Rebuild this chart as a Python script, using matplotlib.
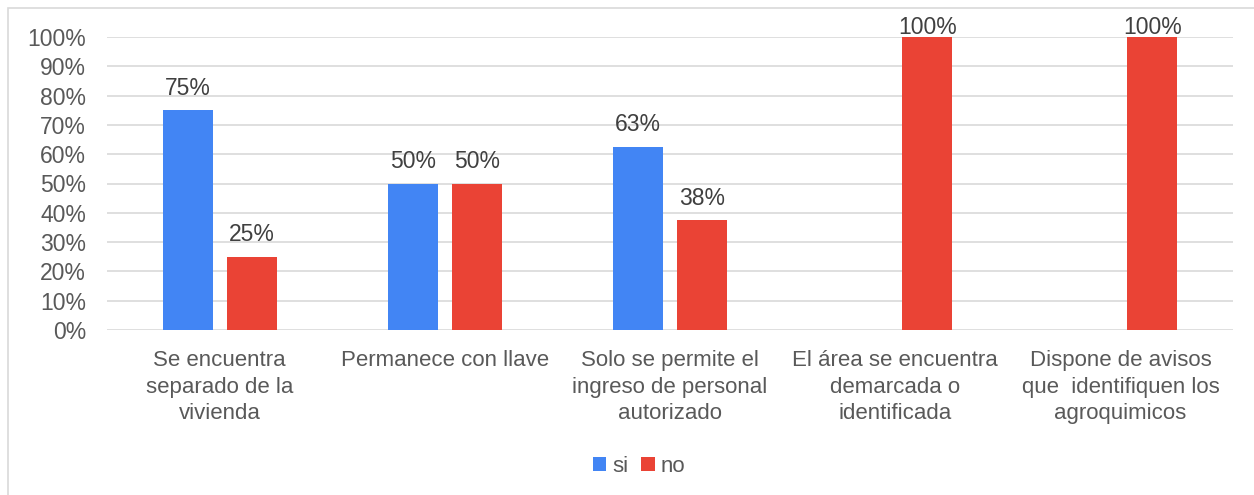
import matplotlib
matplotlib.use("Agg")
import matplotlib.pyplot as plt
import numpy as np
from matplotlib.patches import Rectangle

categories = ["Se encuentra\nseparado de la\nvivienda", "Permanece con llave",
              "Solo se permite el\ningreso de personal\nautorizado",
              "El área se encuentra\ndemarcada o\nidentificada",
              "Dispone de avisos\nque  identifiquen los\nagroquimicos"]
si = [75, 50, 62.5, 0, 0]
no = [25, 50, 37.5, 100, 100]
yticks = list(range(0, 101, 10))

plt.rcParams['font.family'] = ['Liberation Sans', 'DejaVu Sans']
txt = '#595959'
blue = '#4285F4'
red = '#EA4335'

W, H = 1254, 495
fig = plt.figure(figsize=(W/100, H/100), dpi=100)
ax = fig.add_axes([107/W, 1-330/H, (1233-107)/W, (330-37)/H])

x = np.arange(len(categories))
bw = 0.222
off = 0.142
b1 = ax.bar(x - off, si, bw, color=blue, label='si', zorder=3)
b2 = ax.bar(x + off, no, bw, color=red, label='no', zorder=3)
for bars, vals in ((b1, si), (b2, no)):
    for r, v in zip(bars, vals):
        if v > 0:
            ax.text(r.get_x() + r.get_width()/2, min(v + 3.6, 99.2), f"{int(v + 0.5)}%",
                    ha='center', va='bottom', fontsize=16.5, color='#404040', clip_on=False,
                    zorder=4)

ax.set_xlim(-0.5, len(categories) - 0.5)
ax.set_ylim(0, 100)
ax.set_yticks(yticks)
ax.set_yticklabels([f"{t}%" for t in yticks], fontsize=16.5, color=txt)
ax.set_xticks(x)
ax.set_xticklabels(categories, fontsize=16, color=txt, linespacing=1.34, va='top')
ax.tick_params(axis='both', length=0)
ax.tick_params(axis='x', pad=14.5)
ax.tick_params(axis='y', pad=15)
ax.grid(axis='y', color='#d9d9d9', linewidth=1.2, zorder=0)
for s in ax.spines.values():
    s.set_visible(False)

leg = fig.legend(handles=[b1, b2], labels=['si', 'no'], loc='center', bbox_to_anchor=(639/W, 1-466/H),
                 ncol=2, frameon=False, fontsize=16, handlelength=0.6, handleheight=0.6,
                 handletextpad=0.25, columnspacing=0.6)
for t in leg.get_texts():
    t.set_color(txt)

fig.patches.append(Rectangle((8/W, -0.1), 1.2, 1 - 8/H + 0.1, transform=fig.transFigure,
                             fill=False, edgecolor='#d9d9d9', linewidth=1.2))
fig.savefig('out.png', dpi=100)
